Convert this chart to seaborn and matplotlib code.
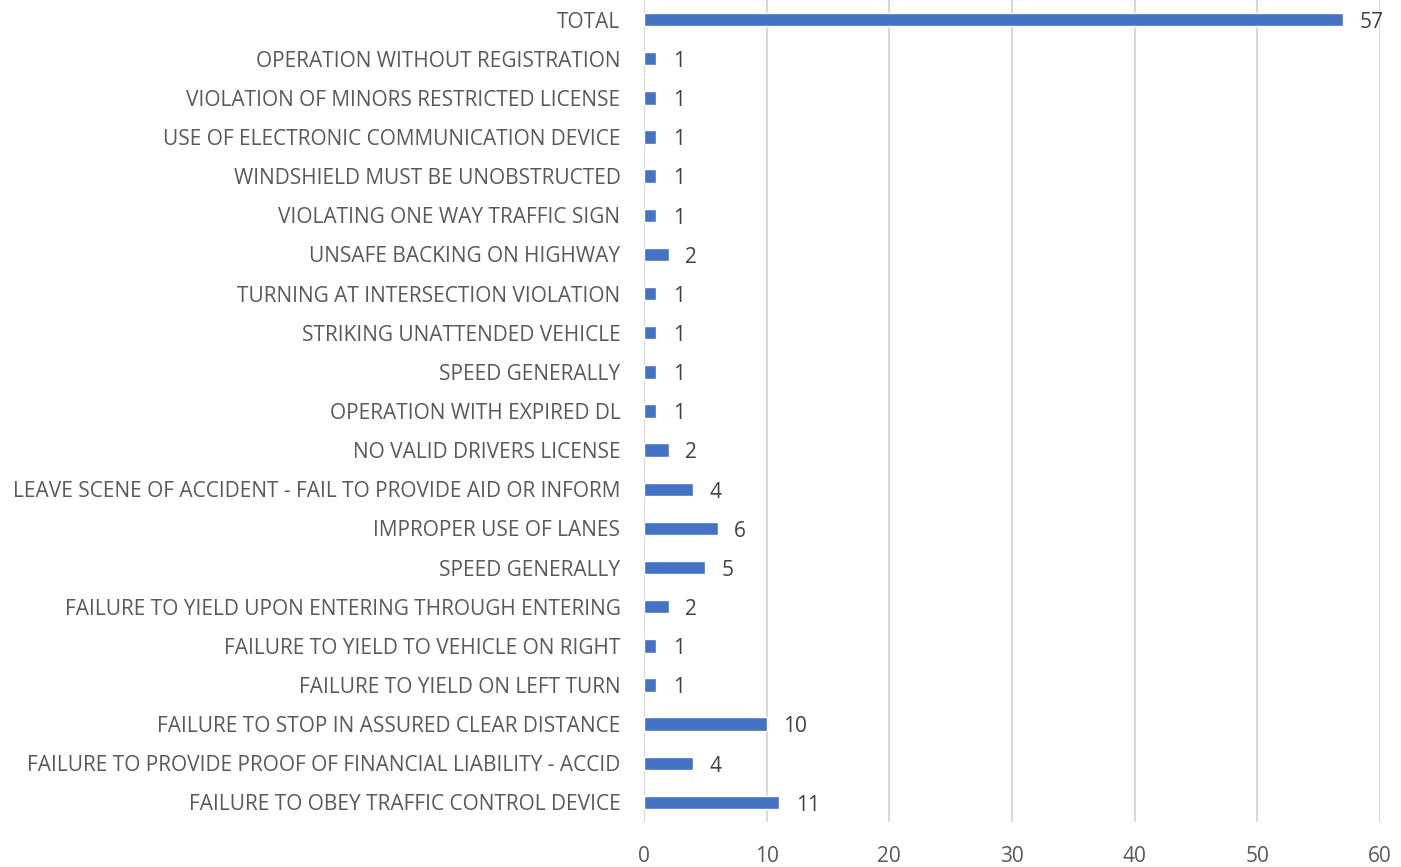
import matplotlib
matplotlib.use("Agg")
import matplotlib.pyplot as plt
import seaborn as sns
import pandas as pd

categories = [
    "TOTAL",
    "OPERATION WITHOUT REGISTRATION",
    "VIOLATION OF MINORS RESTRICTED LICENSE",
    "USE OF ELECTRONIC COMMUNICATION DEVICE",
    "WINDSHIELD MUST BE UNOBSTRUCTED",
    "VIOLATING ONE WAY TRAFFIC SIGN",
    "UNSAFE BACKING ON HIGHWAY",
    "TURNING AT INTERSECTION VIOLATION",
    "STRIKING UNATTENDED VEHICLE",
    "SPEED GENERALLY",
    "OPERATION WITH EXPIRED DL",
    "NO VALID DRIVERS LICENSE",
    "LEAVE SCENE OF ACCIDENT - FAIL TO PROVIDE AID OR INFORM",
    "IMPROPER USE OF LANES",
    "SPEED GENERALLY",
    "FAILURE TO YIELD UPON ENTERING THROUGH ENTERING",
    "FAILURE TO YIELD TO VEHICLE ON RIGHT",
    "FAILURE TO YIELD ON LEFT TURN",
    "FAILURE TO STOP IN ASSURED CLEAR DISTANCE",
    "FAILURE TO PROVIDE PROOF OF FINANCIAL LIABILITY - ACCID",
    "FAILURE TO OBEY TRAFFIC CONTROL DEVICE",
]
values = [57, 1, 1, 1, 1, 1, 2, 1, 1, 1, 1, 2, 4, 6, 5, 2, 1, 1, 10, 4, 11]
x_ticks = [0, 10, 20, 30, 40, 50, 60]

sns.set_theme(style="white")
plt.rcParams["font.family"] = ["Open Sans", "DejaVu Sans"]

TEXT = "#595959"
FS = 15
df = pd.DataFrame({"key": [f"k{i}" for i in range(len(categories))],
                   "label": categories, "value": values})

fig = plt.figure(figsize=(14.01, 8.67), dpi=100)
ax = fig.add_axes([644 / 1401, 45 / 867, 736 / 1401, 822 / 867])

sns.barplot(data=df, x="value", y="key", orient="h", color="#4472C4",
            width=0.34, saturation=1, ax=ax, zorder=3)

ax.set_xlim(0, 60)
ax.set_ylim(len(categories) - 0.5, -0.5)
ax.set_xticks(x_ticks)
ax.set_xticklabels([str(t) for t in x_ticks])
ax.set_yticks(range(len(categories)))
ax.set_yticklabels(categories)
ax.set_xlabel("")
ax.set_ylabel("")
ax.grid(axis="x", color="#D9D9D9", linewidth=1.5, zorder=0)
ax.grid(axis="y", visible=False)
for s in ax.spines.values():
    s.set_visible(False)
ax.tick_params(axis="y", length=0, pad=17, labelsize=FS, labelcolor=TEXT)
ax.tick_params(axis="x", length=0, pad=17, labelsize=FS, labelcolor=TEXT)

for c in ax.containers:
    anns = ax.bar_label(c, labels=[str(v) for v in values], padding=12,
                        fontsize=FS, color="#404040")
    for a in anns:
        a.xyann = (12, -2)

fig.savefig("out.png", dpi=100)
